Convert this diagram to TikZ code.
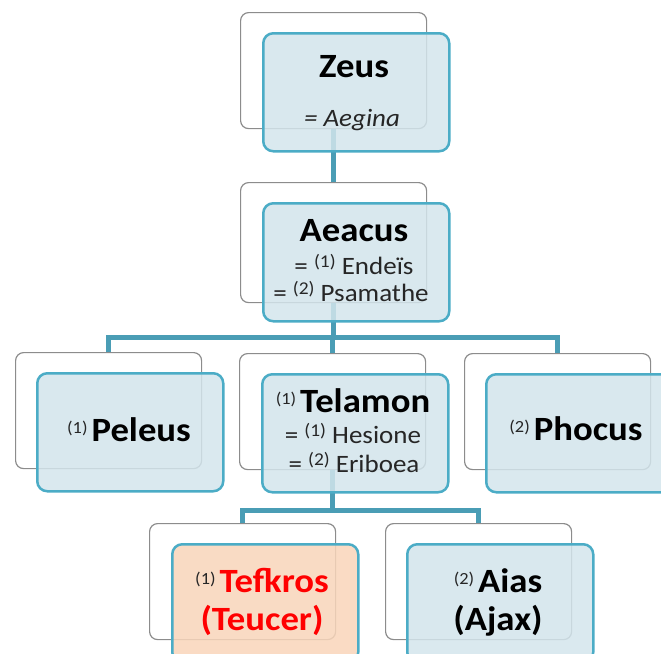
\documentclass[tikz,border=0pt]{standalone}
\usepackage{fontspec}
\setmainfont{Carlito}[FakeStretch=1.08]
\definecolor{tealline}{HTML}{4BACC6}
\definecolor{connc}{HTML}{4A9DB5}
\definecolor{frontfill}{HTML}{D3E5EC}
\definecolor{peach}{HTML}{F9D5BA}
\definecolor{backline}{HTML}{8C8C8C}
\definecolor{subtext}{HTML}{262626}
\definecolor{redtext}{HTML}{FF0000}
\newcommand\mysup[1]{\raisebox{8pt}{\mdseries\color{subtext}\fontsize{17}{17}\selectfont(#1)}\hspace{4pt}}
\newcommand\ssup[1]{\raisebox{7pt}{\fontsize{18}{18}\selectfont(#1)}}
\begin{document}
\begin{tikzpicture}[x=1pt,y=-1pt,
  backbox/.style={draw=backline, line width=1.2pt, fill=white, rounded corners=8pt,
    minimum width=186pt, minimum height=116pt, inner sep=0pt, anchor=north west},
  frontbox/.style={draw=tealline, line width=2.5pt, fill=frontfill, fill opacity=0.85,
    rounded corners=10pt, minimum width=186pt, minimum height=118pt, inner sep=0pt, anchor=north west},
  connector/.style={draw=connc, line width=5pt},
  namelabel/.style={font=\fontsize{34}{34}\selectfont\bfseries, anchor=base, inner sep=0pt},
  sublabel/.style={font=\fontsize{25}{25}\selectfont, text=subtext, anchor=base, inner sep=0pt},
]
\useasboundingbox (0,0) rectangle (661,653);
\clip (0,0) rectangle (661,653);
% back boxes
\node[backbox] (zb) at (240,12) {};
\node[backbox, minimum height=120pt] (ab) at (240,182) {};
\node[backbox] (pb) at (15,352) {};
\node[backbox] (tb) at (239,353) {};
\node[backbox] (hb) at (464,353) {};
\node[backbox] (kb) at (149,523) {};
\node[backbox] (jb) at (385,523) {};
% connectors
\draw[connector] (zb.south) -- (ab.north);
\draw[connector] (ab.south) -- ++(0,34) coordinate (j1);
\draw[connector] (pb.north) |- (j1) -| (hb.north);
\draw[connector] (tb.north) -- (tb.north |- j1);
\draw[connector] (tb.south) -- ++(0,40) coordinate (j2);
\draw[connector] (kb.north) |- (j2) -| (jb.north);
% front boxes
\node[frontbox] (zf) at (262,32) {};
\node[frontbox] (af) at (262,202) {};
\node[frontbox] (pf) at (36,372) {};
\node[frontbox] (tf) at (261,373) {};
\node[frontbox] (hf) at (485,373) {};
\node[frontbox, fill=peach] (kf) at (171,543) {};
\node[frontbox] (jf) at (406,543) {};
% texts
\node[namelabel] (zn) at (354,77) {Zeus};
\node[sublabel] (zs) at (352,126) {\itshape = Aegina};
\node[namelabel] (an) at (354,241) {Aeacus};
\node[sublabel] (as1) at (354,274) {= \ssup{1} Endeïs};
\node[sublabel] (as2) at (351,301) {= \ssup{2} Psamathe};
\node[namelabel] (pn) at (129,441) {\mysup{1}Peleus};
\node[namelabel] (tn) at (353,412) {\mysup{1}Telamon};
\node[sublabel] (ts1) at (353,443) {= \ssup{1} Hesione};
\node[sublabel] (ts2) at (354,472) {= \ssup{2} Eriboea};
\node[namelabel] (hn) at (576,440) {\mysup{2}Phocus};
\node[namelabel, text=redtext] (kn1) at (262,592) {\mysup{1}Tefkros};
\node[namelabel, text=redtext] (kn2) at (262,630) {(Teucer)};
\node[namelabel] (jn1) at (498,592) {\mysup{2}Aias};
\node[namelabel] (jn2) at (498,630) {(Ajax)};
\end{tikzpicture}
\end{document}
